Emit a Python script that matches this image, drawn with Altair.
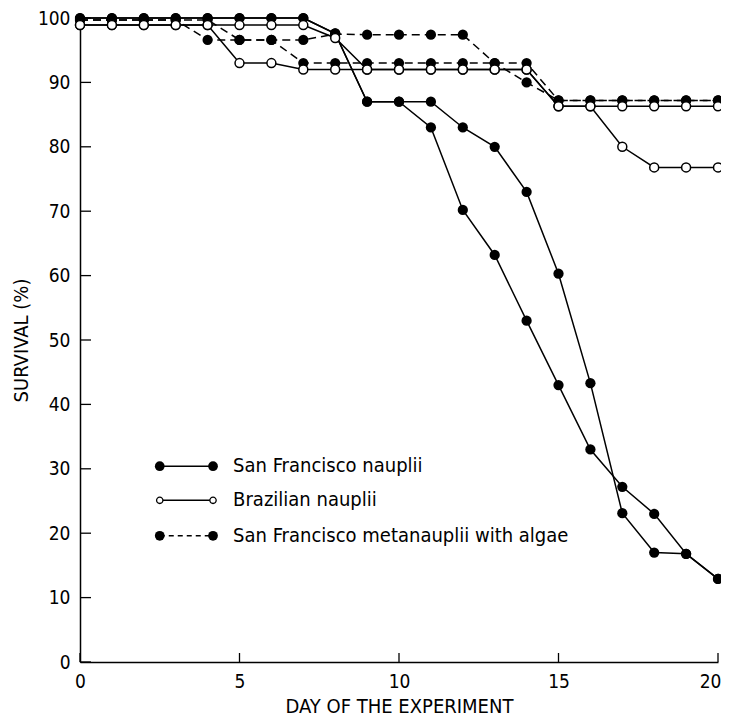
import altair as alt
import pandas as pd

# ---------------- data ----------------
days = [0, 1, 2, 3, 4, 5, 6, 7, 8, 9, 10, 11, 12, 13, 14, 15, 16, 17, 18, 19, 20]

sf_nauplii_a = [100, 100, 100, 100, 100, 100, 100, 100, 97.6, 87, 87, 83, 70.2, 63.2, 53, 43, 33, 27.2, 23, 16.8, 12.9]
sf_nauplii_b = [100, 100, 100, 100, 100, 100, 100, 100, 97.6, 87, 87, 87, 83, 80, 73, 60.3, 43.3, 23.1, 17, 16.8, 12.9]

brazil_a = [98.9, 98.9, 98.9, 98.9, 98.9, 93, 93, 92, 92, 92, 92, 92, 92, 92, 92, 86.3, 86.3, 80, 76.8, 76.8, 76.8]
brazil_b = [98.9, 98.9, 98.9, 98.9, 98.9, 98.9, 98.9, 98.9, 96.9, 92, 92, 92, 92, 92, 92, 86.3, 86.3, 86.3, 86.3, 86.3, 86.3]

meta_a = [99.7, 99.7, 99.7, 99.7, 96.6, 96.6, 96.6, 96.6, 97.5, 97.4, 97.4, 97.4, 97.4, 93, 90, 87.2, 87.2, 87.2, 87.2, 87.2, 87.2]
meta_b = [99.7, 99.7, 99.7, 99.7, 99.7, 96.6, 96.6, 93, 93, 93, 93, 93, 93, 93, 93, 87.2, 87.2, 87.2, 87.2, 87.2, 87.2]

legend_labels = ["San Francisco nauplii", "Brazilian nauplii", "San Francisco metanauplii with algae"]
legend_kinds = ["sf", "br", "meta"]

x_ticks = [0, 5, 10, 15, 20]
y_ticks = [0, 10, 20, 30, 40, 50, 60, 70, 80, 90, 100]

x_title = "DAY OF THE EXPERIMENT"
y_title = "SURVIVAL (%)"

# ---------------- tables ----------------
series = [
    ("sf_a", "sf", sf_nauplii_a),
    ("sf_b", "sf", sf_nauplii_b),
    ("br_a", "br", brazil_a),
    ("br_b", "br", brazil_b),
    ("meta_a", "meta", meta_a),
    ("meta_b", "meta", meta_b),
]
rows = []
for name, kind, vals in series:
    for d, v in zip(days, vals):
        rows.append({"day": d, "survival": v, "series": name, "kind": kind})
df = pd.DataFrame(rows)

# legend placed in data space (styling constants)
LEG_X1, LEG_X2, LEG_TX = 2.5, 4.17, 4.8
LEG_Y = [30.4, 25.1, 19.6]
leg_rows = []
for lab, kind, ly in zip(legend_labels, legend_kinds, LEG_Y):
    leg_rows.append({"label": lab, "kind": kind, "x1": LEG_X1, "x2": LEG_X2, "tx": LEG_TX, "y": ly})
leg = pd.DataFrame(leg_rows)
leg_pts = pd.concat([
    leg.assign(px=leg["x1"]),
    leg.assign(px=leg["x2"]),
])

FONT = "DejaVu Sans Condensed, DejaVu Sans, sans-serif"
W, H = 638, 644

xs = alt.Scale(domain=[0, 20], nice=False, zero=False)
ys = alt.Scale(domain=[0, 100], nice=False)

x_axis = alt.Axis(
    values=x_ticks, format="d", labelPadding=10, title=x_title,
    titlePadding=5, labelFlush=False,
    labelAlign={"condition": {"test": "datum.value == 20", "value": "right"}, "value": "center"},
    labelOffset={"condition": {"test": "datum.value == 20", "value": 3}, "value": 0},
)
y_axis = alt.Axis(values=y_ticks, format="d", labelPadding=10, title=y_title,
                  titlePadding=6)


def X(field):
    return alt.X(field, scale=xs, axis=x_axis, title=x_title)


def Y(field):
    return alt.Y(field, scale=ys, axis=y_axis, title=y_title)


base = alt.Chart(df)

solid_lines = base.transform_filter(alt.datum.kind != "meta").mark_line(
    color="black", strokeWidth=1.5).encode(x=X("day:Q"), y=Y("survival:Q"), detail="series:N")
dashed_lines = base.transform_filter(alt.datum.kind == "meta").mark_line(
    color="black", strokeWidth=1.5, strokeDash=[8, 5]).encode(
    x=X("day:Q"), y=Y("survival:Q"), detail="series:N")
filled_pts = base.transform_filter(alt.datum.kind != "br").mark_circle(
    color="black", size=105, opacity=1).encode(x=X("day:Q"), y=Y("survival:Q"))
open_pts = base.transform_filter(alt.datum.kind == "br").mark_point(
    shape="circle", filled=True, fill="white", stroke="black", strokeWidth=1.5,
    size=80, opacity=1).encode(x=X("day:Q"), y=Y("survival:Q"))

# inward ticks
ytick_layer = alt.Chart(pd.DataFrame({"v": y_ticks})).mark_rule(
    color="black", strokeWidth=1.3).encode(
    y=Y("v:Q"), x=alt.value(0), x2=alt.value(11))
xtick_layer = alt.Chart(pd.DataFrame({"v": x_ticks})).mark_rule(
    color="black", strokeWidth=1.3).encode(
    x=X("v:Q"), y=alt.value(H), y2=alt.value(H - 9))

# legend
lb = alt.Chart(leg)
leg_solid = lb.transform_filter(alt.datum.kind != "meta").mark_rule(
    color="black", strokeWidth=1.5).encode(x=X("x1:Q"), x2="x2:Q", y=Y("y:Q"))
leg_dash = lb.transform_filter(alt.datum.kind == "meta").mark_rule(
    color="black", strokeWidth=1.5, strokeDash=[5, 4]).encode(
    x=X("x1:Q"), x2="x2:Q", y=Y("y:Q"))
lp = alt.Chart(leg_pts)
leg_filled = lp.transform_filter(alt.datum.kind != "br").mark_circle(
    color="black", size=95, opacity=1).encode(x=X("px:Q"), y=Y("y:Q"))
leg_open = lp.transform_filter(alt.datum.kind == "br").mark_point(
    shape="circle", filled=True, fill="white", stroke="black", strokeWidth=1.3,
    size=40, opacity=1).encode(x=X("px:Q"), y=Y("y:Q"))
leg_text = lb.mark_text(align="left", baseline="middle", font=FONT, fontSize=20,
                        color="black").encode(
    x=X("tx:Q"), y=Y("y:Q"), text="label:N")

chart = alt.layer(
    solid_lines, dashed_lines, ytick_layer, xtick_layer, filled_pts, open_pts,
    leg_solid, leg_dash, leg_filled, leg_open, leg_text,
).properties(
    width=W, height=H,
    autosize=alt.AutoSizeParams(type="none"),
    padding={"left": 72, "top": 10, "right": 3, "bottom": 57},
    background="white",
).configure_view(stroke=None).configure_axis(
    grid=False, domainColor="black", domainWidth=1.5, ticks=False, tickSize=0,
    labelFont=FONT, labelFontSize=19, labelColor="black",
    titleFont=FONT, titleFontSize=20, titleFontWeight="normal", titleColor="black",
)

chart.save("out.html", embed_options={"renderer": "svg", "actions": False})
